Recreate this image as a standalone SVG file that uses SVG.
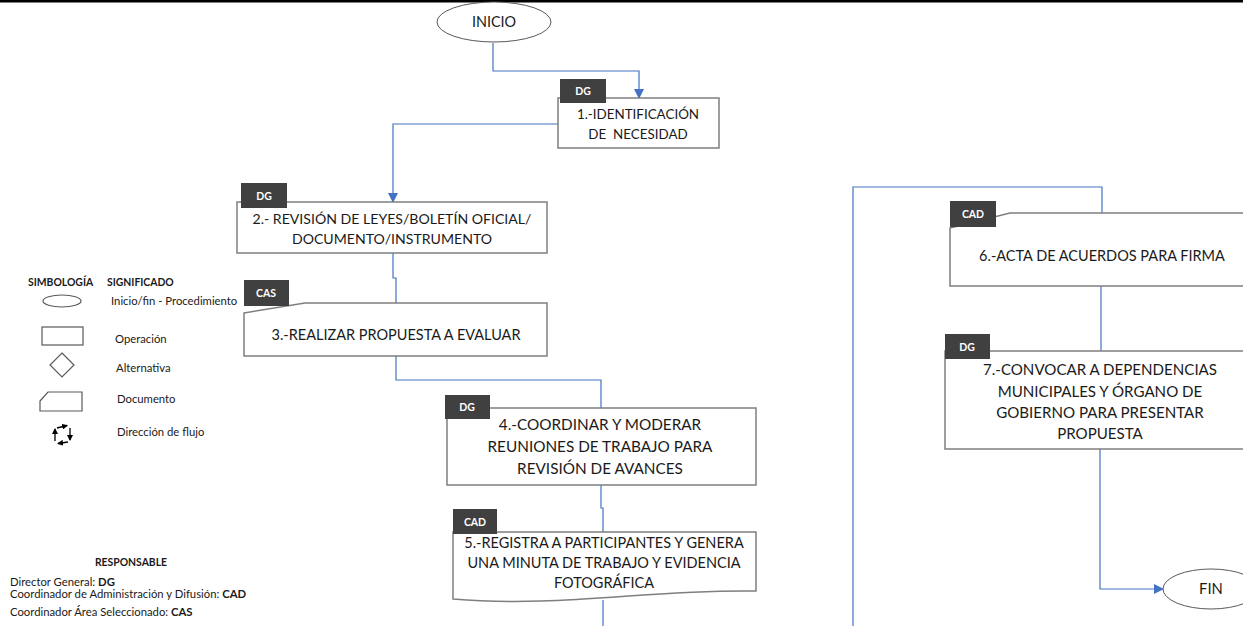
<svg xmlns="http://www.w3.org/2000/svg" width="1243" height="626" viewBox="0 0 1243 626">
  <style>
    .box { fill: #ffffff; stroke: #7f7f7f; stroke-width: 1.5; }
    .tag { fill: #404040; }
    .tagtxt { fill: #ffffff; font-family: Lato, "Liberation Sans", sans-serif; font-weight: bold; font-size: 10.5px; text-anchor: middle; }
    .txt { fill: #1a1a1a; font-family: Lato, "Liberation Sans", sans-serif; font-size: 14.5px; text-anchor: middle; }
    .flow { fill: none; stroke: #4472c4; stroke-width: 1.2; }
    .leg { fill: #ffffff; stroke: #595959; stroke-width: 1.2; }
    .small { fill: #1a1a1a; font-family: Lato, "Liberation Sans", sans-serif; font-size: 11.3px; }
    .head { fill: #1a1a1a; font-family: Lato, "Liberation Sans", sans-serif; font-size: 10.4px; font-weight: bold; }
    .bold { font-weight: bold; }
  </style>
  <defs>
    <marker id="arr" markerWidth="10" markerHeight="10" refX="9" refY="5" orient="auto" markerUnits="userSpaceOnUse">
      <path d="M0,0 L10,5 L0,10 Z" fill="#4472c4"/>
    </marker>
    <marker id="karr" markerWidth="6" markerHeight="6" refX="5" refY="3" orient="auto" markerUnits="userSpaceOnUse">
      <path d="M0,0 L6,3 L0,6 Z" fill="#000000"/>
    </marker>
  </defs>

  <rect x="0" y="0" width="1243" height="630" fill="#ffffff"/>
  <!-- page border line at top -->
  <rect x="0" y="0" width="1243" height="2.5" fill="#000000"/>

  <!-- connectors -->
  <g id="connectors">
    <path class="flow" d="M493,43 V71 H639 V98" marker-end="url(#arr)"/>
    <path class="flow" d="M558,124 H393 V202" marker-end="url(#arr)"/>
    <path class="flow" d="M393,253 V278 H396 V303"/>
    <path class="flow" d="M396,356 V380 H601 V408"/>
    <path class="flow" d="M601,485 V508 H603 V532"/>
    <path class="flow" d="M603,600 V626"/>
    <path class="flow" d="M853,626 V187 H1102 V213"/>
    <path class="flow" d="M1101,286 V351"/>
    <path class="flow" d="M1100,449 V589 H1163" marker-end="url(#arr)"/>
  </g>

  <!-- start -->
  <g id="inicio">
    <ellipse class="box" cx="494" cy="22" rx="57" ry="20" style="stroke:#595959;stroke-width:1"/>
    <text class="txt" x="494" y="27" style="font-size:14.4px">INICIO</text>
  </g>

  <!-- 1 -->
  <g id="step1">
    <rect class="box" x="558" y="98" width="161" height="50"/>
    <rect class="tag" x="560" y="79" width="46" height="24"/>
    <text class="tagtxt" x="583" y="95">DG</text>
    <text class="txt" x="638" y="119" style="font-size:13.4px">1.-IDENTIFICACIÓN</text>
    <text class="txt" x="638" y="139" style="font-size:13.4px" xml:space="preserve">DE  NECESIDAD</text>
  </g>

  <!-- 2 -->
  <g id="step2">
    <rect class="box" x="237" y="202" width="310" height="51"/>
    <rect class="tag" x="241" y="183" width="46" height="25"/>
    <text class="tagtxt" x="264" y="200">DG</text>
    <text class="txt" x="392" y="224" style="font-size:14.1px">2.- REVISIÓN DE LEYES/BOLETÍN OFICIAL/</text>
    <text class="txt" x="392" y="244" style="font-size:14.1px">DOCUMENTO/INSTRUMENTO</text>
  </g>

  <!-- 3 -->
  <g id="step3">
    <path class="box" d="M244,313 L305,303 H547 V356 H244 Z"/>
    <rect class="tag" x="244" y="280" width="45" height="26"/>
    <text class="tagtxt" x="266" y="297">CAS</text>
    <text class="txt" x="396" y="340">3.-REALIZAR PROPUESTA A EVALUAR</text>
  </g>

  <!-- 4 -->
  <g id="step4">
    <rect class="box" x="447" y="408" width="309" height="77"/>
    <rect class="tag" x="445" y="395" width="45" height="24"/>
    <text class="tagtxt" x="467" y="411">DG</text>
    <text class="txt" x="600" y="430" style="font-size:15.3px">4.-COORDINAR Y MODERAR</text>
    <text class="txt" x="600" y="452" style="font-size:15.3px">REUNIONES DE TRABAJO PARA</text>
    <text class="txt" x="600" y="474" style="font-size:15.3px">REVISIÓN DE AVANCES</text>
  </g>

  <!-- 5 -->
  <g id="step5">
    <path class="box" d="M453,532 H756 V591 C650,589 560,608 453,599 Z"/>
    <rect class="tag" x="453" y="509" width="44" height="25"/>
    <text class="tagtxt" x="475" y="526">CAD</text>
    <text class="txt" x="604" y="548">5.-REGISTRA A PARTICIPANTES Y GENERA</text>
    <text class="txt" x="604" y="568">UNA MINUTA DE TRABAJO Y EVIDENCIA</text>
    <text class="txt" x="604" y="588">FOTOGRÁFICA</text>
  </g>

  <!-- 6 -->
  <g id="step6">
    <path class="box" d="M950,228 L1010,213 H1260 V286 H950 Z"/>
    <rect class="tag" x="950" y="201" width="46" height="26"/>
    <text class="tagtxt" x="973" y="218">CAD</text>
    <text class="txt" x="1102" y="261">6.-ACTA DE ACUERDOS PARA FIRMA</text>
  </g>

  <!-- 7 -->
  <g id="step7">
    <rect class="box" x="945" y="351" width="315" height="98"/>
    <rect class="tag" x="945" y="334" width="45" height="25"/>
    <text class="tagtxt" x="967" y="351">DG</text>
    <text class="txt" x="1100" y="375" style="font-size:15.1px">7.-CONVOCAR A DEPENDENCIAS</text>
    <text class="txt" x="1100" y="397" style="font-size:15.1px">MUNICIPALES Y ÓRGANO DE</text>
    <text class="txt" x="1100" y="418" style="font-size:15.1px">GOBIERNO PARA PRESENTAR</text>
    <text class="txt" x="1100" y="439" style="font-size:15.1px">PROPUESTA</text>
  </g>

  <!-- end -->
  <g id="fin">
    <ellipse class="box" cx="1211" cy="589" rx="48" ry="20" style="stroke:#595959;stroke-width:1"/>
    <text class="txt" x="1211" y="594" style="font-size:14.8px">FIN</text>
  </g>

  <!-- legend of symbols -->
  <g id="legend">
    <text class="head" x="28" y="286">SIMBOLOGÍA</text>
    <text class="head" x="107" y="286">SIGNIFICADO</text>
    <ellipse class="leg" cx="62" cy="301" rx="19" ry="6"/>
    <text class="small" x="111" y="305">Inicio/fin - Procedimiento</text>
    <rect class="leg" x="42" y="327" width="41" height="18"/>
    <text class="small" x="115" y="343">Operación</text>
    <path class="leg" d="M62,353 L74,365 L62,377 L50,365 Z"/>
    <text class="small" x="116" y="372">Alternativa</text>
    <path class="leg" d="M40,401 L48,392 H82 V411 H40 Z"/>
    <text class="small" x="117" y="403">Documento</text>
    <g stroke="#000000" stroke-width="1.3" fill="none">
      <line x1="57" y1="428" x2="67" y2="425.5" marker-end="url(#karr)"/>
      <line x1="70" y1="428" x2="70" y2="440" marker-end="url(#karr)"/>
      <line x1="68" y1="442" x2="58" y2="443.5" marker-end="url(#karr)"/>
      <line x1="55" y1="441" x2="55" y2="429" marker-end="url(#karr)"/>
    </g>
    <text class="small" x="117" y="436">Dirección de flujo</text>
  </g>

  <!-- responsibility key -->
  <g id="responsables">
    <text class="head" x="131" y="566" text-anchor="middle">RESPONSABLE</text>
    <text class="small" x="10" y="586">Director General: <tspan class="bold">DG</tspan></text>
    <text class="small" x="10" y="598">Coordinador de Administración y Difusión: <tspan class="bold">CAD</tspan></text>
    <text class="small" x="10" y="616">Coordinador Área Seleccionado: <tspan class="bold">CAS</tspan></text>
  </g>
</svg>
